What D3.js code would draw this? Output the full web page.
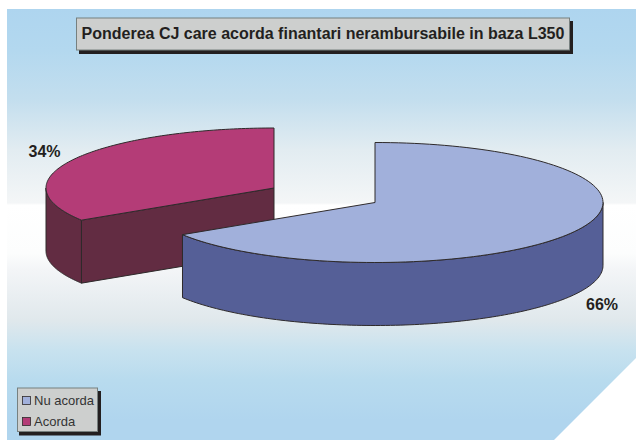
<!DOCTYPE html>
<html>
<head>
<meta charset="utf-8">
<script src="https://cdn.jsdelivr.net/npm/d3@7"></script>
<style>html,body{margin:0;padding:0;background:#fff;overflow:hidden}svg{display:block}text{font-family:"Liberation Sans",Arial,sans-serif;fill:#231f20}</style>
</head>
<body>
<svg id="c" width="636" height="440"></svg>
<script>
const categories = ["Nu acorda", "Acorda"];
const values = [66, 34];
const labels = ["66%", "34%"];
const title = "Ponderea CJ care acorda finantari nerambursabile in baza L350";
const topColors = ["#a1b0db", "#b43c77"];
const sideColors = ["#555f97", "#622c42"];

const svg = d3.select("#c");
const defs = svg.append("defs");
const grad = defs.append("linearGradient").attr("id", "bg").attr("x1", 0).attr("y1", 0).attr("x2", 0).attr("y2", 1);
[[0, "#aed5ef"], [0.095, "#b3d8ef"], [0.21, "#c3deee"], [0.327, "#e2ecf1"], [0.45, "#f4f6f7"], [0.455, "#ffffff"], [0.566, "#fcfdfd"], [0.606, "#f3f5f7"], [0.722, "#e0e8ec"], [0.791, "#c8e2ef"], [0.861, "#b8dbee"], [0.954, "#b0d5ee"], [1, "#b0d5ee"]]
  .forEach(s => grad.append("stop").attr("offset", s[0]).attr("stop-color", s[1]));

svg.append("path").attr("d", d3.line()([[7, 9], [636, 9], [636, 358], [554, 440], [7, 440]]) + "Z").attr("fill", "url(#bg)");

const rx = 228, ry = 60, depth = 63;
const centers = [[375, 202.5], [274, 188]];
const arcs = d3.pie().sort(null)(values);
const stroke = "#2e2a2b";
const pt = (c, a, dz = 0) => [c[0] + rx * Math.sin(a), c[1] - ry * Math.cos(a) + dz];
const line = d3.line();
const samples = (a0, a1) => d3.range(0, 121).map(i => a0 + (a1 - a0) * i / 120);

function drawWall(i, a0, a1) {
  const c = centers[i], s = samples(a0, a1);
  const p = s.map(a => pt(c, a)).concat(s.slice().reverse().map(a => pt(c, a, depth)));
  svg.append("path").attr("d", line(p) + "Z").attr("fill", sideColors[i]).attr("stroke", stroke).attr("stroke-width", 1);
}
function drawCutFace(i, a) {
  const c = centers[i], e = pt(c, a);
  svg.append("path").attr("d", line([c, e, [e[0], e[1] + depth], [c[0], c[1] + depth]]) + "Z")
    .attr("fill", sideColors[i]).attr("stroke", stroke).attr("stroke-width", 1);
}
function drawTop(i, a0, a1) {
  const c = centers[i];
  const p = [c].concat(samples(a0, a1).map(a => pt(c, a)));
  svg.append("path").attr("d", line(p) + "Z").attr("fill", topColors[i]).attr("stroke", stroke).attr("stroke-width", 1);
}

// Acorda slice, drawn first (behind)
drawWall(1, arcs[1].startAngle, 3 * Math.PI / 2);
drawCutFace(1, arcs[1].startAngle);
drawTop(1, arcs[1].startAngle, arcs[1].endAngle);
// Nu acorda slice
drawWall(0, Math.PI / 2, arcs[0].endAngle);
drawTop(0, arcs[0].startAngle, arcs[0].endAngle);

// Data labels
svg.append("text").attr("x", 602).attr("y", 309.5).attr("text-anchor", "middle").attr("font-size", 16).attr("font-weight", "bold").text(labels[0]);
svg.append("text").attr("x", 44.5).attr("y", 157).attr("text-anchor", "middle").attr("font-size", 16).attr("font-weight", "bold").text(labels[1]);

// Title
svg.append("rect").attr("x", 79).attr("y", 21).attr("width", 494).attr("height", 33).attr("fill", "#231f20");
svg.append("rect").attr("x", 76.5).attr("y", 18).attr("width", 493).attr("height", 32).attr("fill", "#cdcfce").attr("stroke", "#77807f").attr("stroke-width", 1);
svg.append("text").attr("x", 323).attr("y", 39).attr("text-anchor", "middle").attr("font-size", 16).attr("font-weight", "bold").text(title);

// Legend
svg.append("rect").attr("x", 19).attr("y", 391).attr("width", 82).attr("height", 44.5).attr("fill", "#231f20");
svg.append("rect").attr("x", 17.5).attr("y", 388).attr("width", 80).attr("height", 43.5).attr("fill", "#cdcfce").attr("stroke", "#77807f").attr("stroke-width", 1);
categories.forEach((d, i) => {
  const y = 396.5 + i * 21;
  svg.append("rect").attr("x", 22.5).attr("y", y).attr("width", 8).attr("height", 8).attr("fill", topColors[i]).attr("stroke", stroke).attr("stroke-width", 0.8);
  svg.append("text").attr("x", 34).attr("y", y + 8).attr("font-size", 13).style("fill", "#333").text(d);
});
</script>
</body>
</html>
